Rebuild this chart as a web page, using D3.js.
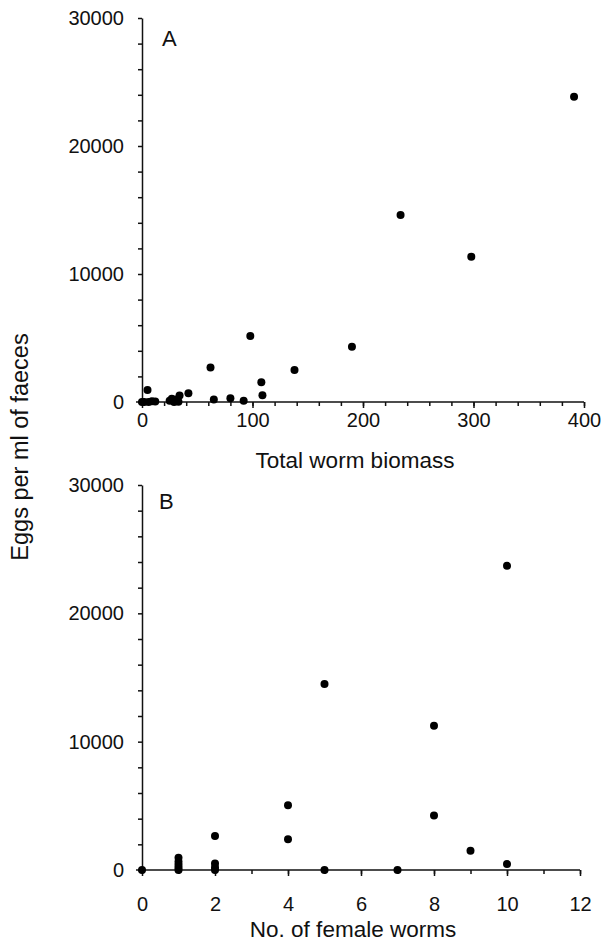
<!DOCTYPE html>
<html>
<head>
<meta charset="utf-8">
<script src="https://cdn.jsdelivr.net/npm/d3@7"></script>
<style>
  body { margin: 0; background: #fff; }
  svg { display: block; }
  text { font-family: "Liberation Sans", Arial, sans-serif; fill: #111; }
</style>
</head>
<body>
<svg id="chart" width="604" height="941"></svg>
<script>
// Panel A: total worm biomass vs eggs per ml
const biomassA = [0, 2, 5, 6, 9, 12, 25, 27, 29, 31, 33, 34, 42, 62, 65, 80, 92, 98, 108, 109, 138, 190, 234, 298, 391];
const eggsA = [0, 0, 940, 0, 60, 30, 100, 250, 0, 200, 20, 500, 680, 2700, 200, 300, 100, 5150, 1550, 520, 2500, 4320, 14600, 11350, 23850];

// Panel B: number of female worms vs eggs per ml
const femalesB = [0, 1, 1, 1, 1, 1, 2, 2, 2, 2, 4, 4, 5, 5, 7, 8, 8, 9, 10, 10];
const eggsB = [0, 0, 200, 400, 650, 950, 0, 200, 500, 2650, 2400, 5050, 0, 14500, 0, 4250, 11250, 1500, 460, 23700];

const yTickLabels = [0, 10000, 20000, 30000];
const xTickLabelsA = [0, 100, 200, 300, 400];
const xTickLabelsB = [0, 2, 4, 6, 8, 10, 12];

const svg = d3.select("#chart");

drawPanel({
  xs: biomassA, ys: eggsA,
  xDomain: [0, 400], xRange: [142, 584], yRange: [402, 18],
  xMajor: xTickLabelsA, xMinorStep: 20,
  labelGap: 5, title: "Total worm biomass", titleY: 468,
  letter: "A", letterX: 162, letterY: 46,
});

drawPanel({
  xs: femalesB, ys: eggsB,
  xDomain: [0, 12], xRange: [142, 580], yRange: [870, 485],
  xMajor: xTickLabelsB, xMinorStep: 1,
  labelGap: 21, title: "No. of female worms", titleY: 937,
  letter: "B", letterX: 159, letterY: 509,
});

svg.append("text")
  .attr("transform", "translate(20,447) rotate(-90)")
  .attr("text-anchor", "middle")
  .attr("dy", "0.35em")
  .attr("font-size", 23.5)
  .text("Eggs per ml of faeces");

function drawPanel(cfg) {
  const x = d3.scaleLinear().domain(cfg.xDomain).range(cfg.xRange);
  const y = d3.scaleLinear().domain([0, 30000]).range(cfg.yRange);
  const g = svg.append("g");

  // y axis, minor ticks every 2000, labels at 10000s
  const yAxis = g.append("g")
    .attr("transform", `translate(${cfg.xRange[0]},0)`)
    .call(d3.axisLeft(y)
      .tickValues(d3.range(0, 30001, 2000))
      .tickSize(4)
      .tickSizeOuter(0)
      .tickPadding(14)
      .tickFormat((d) => (yTickLabels.includes(d) ? d : "")));

  // x axis, minor ticks
  const xMinor = d3.range(cfg.xDomain[0], cfg.xDomain[1] + 0.001, cfg.xMinorStep);
  const xAxis = g.append("g")
    .attr("transform", `translate(0,${cfg.yRange[0]})`)
    .call(d3.axisBottom(x).tickValues(xMinor).tickSize(4).tickSizeOuter(0).tickFormat(""));
  xAxis.select(".domain").attr("d", `M${cfg.xRange[0] - 6},0H${cfg.xRange[1]}`);

  // x axis, major ticks with labels
  const xMajorAxis = g.append("g")
    .attr("transform", `translate(0,${cfg.yRange[0]})`)
    .call(d3.axisBottom(x).tickValues(cfg.xMajor).tickSize(6).tickPadding(cfg.labelGap));
  xMajorAxis.select(".domain").remove();

  [yAxis, xAxis, xMajorAxis].forEach((a) => {
    a.selectAll("path, line").attr("stroke", "#111").attr("stroke-width", 1.5);
    a.selectAll("text").attr("font-size", 20).attr("fill", "#111")
      .style("font-family", '"Liberation Sans", Arial, sans-serif');
  });

  g.append("g")
    .selectAll("circle")
    .data(cfg.xs.map((v, i) => [v, cfg.ys[i]]))
    .join("circle")
    .attr("cx", (d) => x(d[0]))
    .attr("cy", (d) => y(d[1]))
    .attr("r", 4)
    .attr("fill", "#000");

  g.append("text")
    .attr("x", (cfg.xRange[0] + cfg.xRange[1]) / 2 - 8)
    .attr("y", cfg.titleY)
    .attr("text-anchor", "middle")
    .attr("font-size", 22.5)
    .text(cfg.title);

  g.append("text")
    .attr("x", cfg.letterX)
    .attr("y", cfg.letterY)
    .attr("font-size", 22)
    .text(cfg.letter);
}
</script>
</body>
</html>
